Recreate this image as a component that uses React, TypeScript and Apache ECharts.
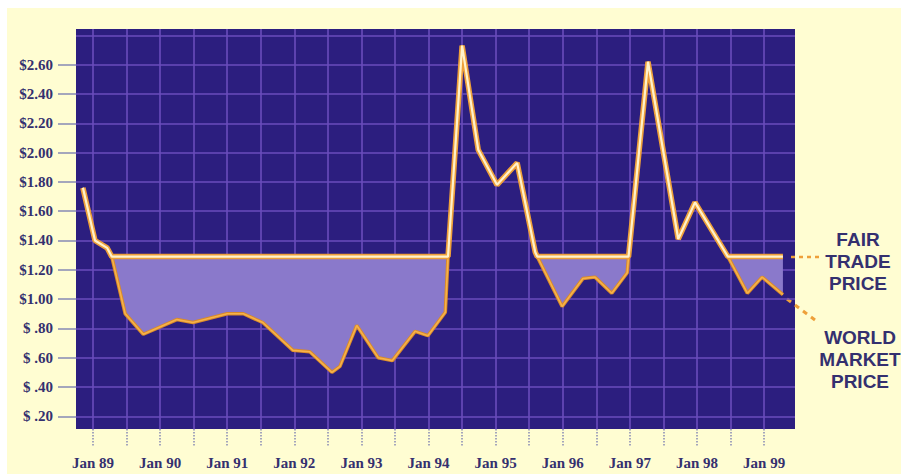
import React, { useEffect, useRef } from "react";
import * as echarts from "echarts";

// time in years (1989.0 = Jan 89)
const dates = [
  1988.85, 1989.03, 1989.21, 1989.28, 1989.48, 1989.75, 1990.25, 1990.49, 1991.0, 1991.24,
  1991.53, 1991.98, 1992.23, 1992.56, 1992.68, 1992.93, 1993.25, 1993.46, 1993.8, 1993.99,
  1994.25, 1994.29, 1994.5, 1994.74, 1995.02, 1995.32, 1995.59, 1995.62, 1995.99, 1996.3,
  1996.48, 1996.73, 1996.96, 1996.98, 1997.27, 1997.72, 1997.97, 1998.46, 1998.75, 1998.97,
  1999.28,
];
const worldMarket = [
  1.76, 1.4, 1.35, 1.29, 0.9, 0.76, 0.86, 0.84, 0.9, 0.9,
  0.84, 0.65, 0.64, 0.5, 0.54, 0.82, 0.6, 0.58, 0.78, 0.75,
  0.91, 1.29, 2.73, 2.02, 1.78, 1.93, 1.32, 1.29, 0.95, 1.14,
  1.15, 1.04, 1.18, 1.29, 2.62, 1.41, 1.66, 1.29, 1.04, 1.15,
  1.03,
];
const fairTrade = [
  1.76, 1.4, 1.35, 1.29, 1.29, 1.29, 1.29, 1.29, 1.29, 1.29,
  1.29, 1.29, 1.29, 1.29, 1.29, 1.29, 1.29, 1.29, 1.29, 1.29,
  1.29, 1.29, 2.73, 2.02, 1.78, 1.93, 1.32, 1.29, 1.29, 1.29,
  1.29, 1.29, 1.29, 1.29, 2.62, 1.41, 1.66, 1.29, 1.29, 1.29,
  1.29,
];
const yearTicks = [1989, 1990, 1991, 1992, 1993, 1994, 1995, 1996, 1997, 1998, 1999];
const yearLabels = ["Jan 89", "Jan 90", "Jan 91", "Jan 92", "Jan 93", "Jan 94", "Jan 95", "Jan 96", "Jan 97", "Jan 98", "Jan 99"];
const halfYearTicks = [
  1989, 1989.5, 1990, 1990.5, 1991, 1991.5, 1992, 1992.5, 1993, 1993.5, 1994, 1994.5,
  1995, 1995.5, 1996, 1996.5, 1997, 1997.5, 1998, 1998.5, 1999,
];
const priceTicks = [0.2, 0.4, 0.6, 0.8, 1.0, 1.2, 1.4, 1.6, 1.8, 2.0, 2.2, 2.4, 2.6];
const priceLabels = ["$ .20", "$ .40", "$ .60", "$ .80", "$1.00", "$1.20", "$1.40", "$1.60", "$1.80", "$2.00", "$2.20", "$2.40", "$2.60"];
const extraGridValues = [2.8];

const NAVY = "#2c1e7f";
const GRID = "#6a4cbc";
const TEXT = "#34306f";
const ORANGE = "#eea03a";

export default function App() {
  const ref = useRef<HTMLDivElement>(null);
  useEffect(() => {
    if (!ref.current) return;
    const chart = echarts.init(ref.current, null, { renderer: "svg" });
    const marketData = dates.map((d, i) => [d, worldMarket[i]]);
    const fairData = dates.map((d, i) => [d, fairTrade[i]]);
    const bandData = dates.map((d, i) => [d, worldMarket[i], fairTrade[i]]);
    const findLabel = (arr: number[], labels: string[], v: number) => {
      const i = arr.findIndex((a) => Math.abs(a - v) < 1e-6);
      return i >= 0 ? labels[i] : "";
    };
    const labelText = (t: string, x: number, y: number) => ({
      type: "text",
      x,
      y,
      style: {
        text: t,
        fill: TEXT,
        font: "bold 19px 'Liberation Sans', sans-serif",
        align: "center",
        verticalAlign: "middle",
      },
    });
    chart.setOption({
      animation: false,
      backgroundColor: "transparent",
      grid: {
        left: 76,
        right: 106,
        top: 29,
        bottom: 45,
        show: true,
        backgroundColor: NAVY,
        borderWidth: 0,
      },
      xAxis: [
        {
          type: "value",
          min: 1988.747,
          max: 1999.46,
          axisLine: { show: false },
          axisTick: {
            show: true,
            customValues: halfYearTicks,
            length: 17,
            lineStyle: { color: "#8688b4", width: 1.5, type: "dotted" },
          },
          axisLabel: {
            customValues: yearTicks,
            formatter: (v: number) => findLabel(yearTicks, yearLabels, v),
            margin: 26,
            color: TEXT,
            fontFamily: "Liberation Serif, serif",
            fontWeight: "bold",
            fontSize: 15,
          },
          splitLine: { show: true, lineStyle: { color: GRID, width: 1.6 } },
        },
      ],
      yAxis: [
        {
          type: "value",
          min: 0.113,
          max: 2.844,
          axisLine: { show: false },
          axisTick: {
            show: true,
            customValues: priceTicks,
            length: 18,
            lineStyle: { color: "#8688b4", width: 1.5 },
          },
          axisLabel: {
            customValues: priceTicks,
            formatter: (v: number) => findLabel(priceTicks, priceLabels, v),
            margin: 23,
            color: TEXT,
            fontFamily: "Liberation Serif, serif",
            fontWeight: "bold",
            fontSize: 15,
          },
          splitLine: { show: true, lineStyle: { color: GRID, width: 1.6 } },
        },
        {
          type: "value",
          position: "right",
          min: 0.113,
          max: 2.844,
          axisLine: { show: false },
          axisTick: { show: false, customValues: extraGridValues },
          axisLabel: { show: false },
          splitLine: { show: true, lineStyle: { color: GRID, width: 1.6 } },
        },
      ],
      series: [
        {
          type: "custom",
          data: bandData,
          silent: true,
          z: 1,
          encode: { x: 0, y: [1, 2] },
          renderItem: (params: any, api: any) => {
            if (params.dataIndex !== 0) return null;
            const lower = bandData.map((r) => api.coord([r[0], r[1]]));
            const upper = bandData.map((r) => api.coord([r[0], r[2]])).reverse();
            return {
              type: "polygon",
              shape: { points: lower.concat(upper) },
              style: { fill: "#8a79cb" },
            };
          },
        },
        {
          type: "line",
          data: marketData,
          symbol: "none",
          lineStyle: { color: "#d98a2a", width: 3.5 },
          z: 2,
        },
        {
          type: "line",
          data: marketData,
          symbol: "none",
          lineStyle: { color: "#f6b24a", width: 1.6 },
          z: 3,
        },
        {
          type: "line",
          data: fairData,
          symbol: "none",
          lineStyle: { color: ORANGE, width: 5.5 },
          z: 4,
        },
        {
          type: "line",
          data: fairData,
          symbol: "none",
          lineStyle: { color: "#fff2cc", width: 2.2 },
          z: 5,
        },
      ],
      graphic: [
        {
          type: "line",
          shape: { x1: 791, y1: 257, x2: 822, y2: 257 },
          style: { stroke: ORANGE, lineWidth: 2.5, lineDash: [4, 4] },
        },
        {
          type: "line",
          shape: { x1: 787, y1: 299, x2: 819, y2: 323 },
          style: { stroke: ORANGE, lineWidth: 3, lineDash: [5, 5] },
        },
        labelText("FAIR", 858, 239),
        labelText("TRADE", 858, 261),
        labelText("PRICE", 858, 283),
        labelText("WORLD", 860, 337),
        labelText("MARKET", 860, 359),
        labelText("PRICE", 860, 381),
      ],
    });
    return () => chart.dispose();
  }, []);
  return (
    <div style={{ position: "fixed", left: 0, top: 0, width: 901, height: 474, background: "#ffffff" }}>
      <div style={{ position: "absolute", left: 7, top: 8, width: 894, height: 466, background: "#fffdd2" }} />
      <div ref={ref} style={{ position: "absolute", left: 0, top: 0, width: 901, height: 474 }} />
    </div>
  );
}
